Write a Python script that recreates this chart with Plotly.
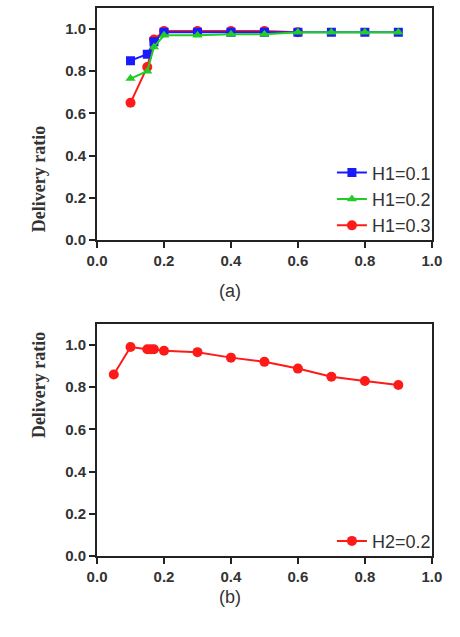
import plotly.graph_objects as go

# ---- data ----
x_top = [0.1, 0.15, 0.17, 0.2, 0.3, 0.4, 0.5, 0.6, 0.7, 0.8, 0.9]
h1_01 = [0.85, 0.88, 0.94, 0.985, 0.985, 0.985, 0.985, 0.985, 0.985, 0.985, 0.985]
h1_02 = [0.765, 0.80, 0.915, 0.97, 0.97, 0.975, 0.975, 0.985, 0.985, 0.985, 0.985]
x_red = [0.1, 0.15, 0.17, 0.2, 0.3, 0.4, 0.5, 0.6]
h1_03 = [0.65, 0.82, 0.95, 0.99, 0.99, 0.99, 0.99, 0.985]

x_bot = [0.05, 0.1, 0.15, 0.16, 0.17, 0.2, 0.3, 0.4, 0.5, 0.6, 0.7, 0.8, 0.9]
h2_02 = [0.86, 0.99, 0.98, 0.98, 0.98, 0.973, 0.966, 0.94, 0.92, 0.888, 0.849, 0.829, 0.81]

ticks = [0.0, 0.2, 0.4, 0.6, 0.8, 1.0]
tick_text = ["0.0", "0.2", "0.4", "0.6", "0.8", "1.0"]

W, H = 460, 637
xdom = [91 / W, 441 / W]
ydom_top = [1 - 243 / H, 1 - 8 / H]
ydom_bot = [1 - 563 / H, 1 - 328 / H]

fig = go.Figure()

def add(x, y, name, color, symbol, size, xa, ya, legend, rank):
    fig.add_trace(go.Scatter(
        x=x, y=y, name=name, mode="lines+markers",
        line=dict(color=color, width=2),
        marker=dict(color=color, symbol=symbol, size=size),
        xaxis=xa, yaxis=ya, legend=legend, legendrank=rank,
    ))

add(x_red, h1_03, "H1=0.3", "#ff1a1a", "circle", 10, "x", "y", "legend", 3)
add(x_top, h1_01, "H1=0.1", "#1a1aff", "square", 9, "x", "y", "legend", 1)
add(x_top, h1_02, "H1=0.2", "#22cc22", "triangle-up", 9, "x", "y", "legend", 2)
add(x_bot, h2_02, "H2=0.2", "#ff1a1a", "circle", 10, "x2", "y2", "legend2", 1)

axis_common = dict(
    showline=True, linecolor="#222", linewidth=2, mirror=True,
    ticks="outside", ticklen=6, tickwidth=2, tickcolor="#222",
    showgrid=False, zeroline=False,
    tickfont=dict(family="Liberation Sans, Arial", size=15, color="#333", weight="bold"),
    tickvals=ticks, ticktext=tick_text,
)

legend_common = dict(
    xanchor="right", yanchor="bottom",
    bgcolor="rgba(0,0,0,0)",
    font=dict(family="Liberation Sans, Arial", size=18, color="#333"),
    itemwidth=30, tracegroupgap=0,
)

fig.update_layout(
    width=W, height=H,
    margin=dict(l=0, r=0, t=0, b=0),
    paper_bgcolor="white", plot_bgcolor="white",
    xaxis=dict(domain=xdom, range=[0, 1.0], anchor="y", **axis_common),
    yaxis=dict(domain=ydom_top, range=[0, 1.1], anchor="x", **axis_common),
    xaxis2=dict(domain=xdom, range=[0, 1.0], anchor="y2", **axis_common),
    yaxis2=dict(domain=ydom_bot, range=[0, 1.1], anchor="x2", **axis_common),
    legend=dict(x=0.968, y=ydom_top[0] - 0.007, **legend_common),
    legend2=dict(x=0.968, y=ydom_bot[0] - 0.006, **legend_common),
    showlegend=True,
)

for yc in [(ydom_top[0] + ydom_top[1]) / 2, (ydom_bot[0] + ydom_bot[1]) / 2]:
    fig.add_annotation(
        text="Delivery ratio", textangle=-90, x=18 / W, y=yc,
        xref="paper", yref="paper", showarrow=False,
        font=dict(family="Liberation Serif, Times New Roman", size=18, color="#333", weight="bold"),
    )

fig.add_annotation(text="(a)", x=230 / W, y=1 - 295 / H, xref="paper", yref="paper",
                   showarrow=False, font=dict(family="Liberation Sans, Arial", size=18, color="#333"))
fig.add_annotation(text="(b)", x=230 / W, y=1 - 617 / H, xref="paper", yref="paper",
                   showarrow=False, font=dict(family="Liberation Sans, Arial", size=18, color="#333"))

fig.write_html("out.html")
